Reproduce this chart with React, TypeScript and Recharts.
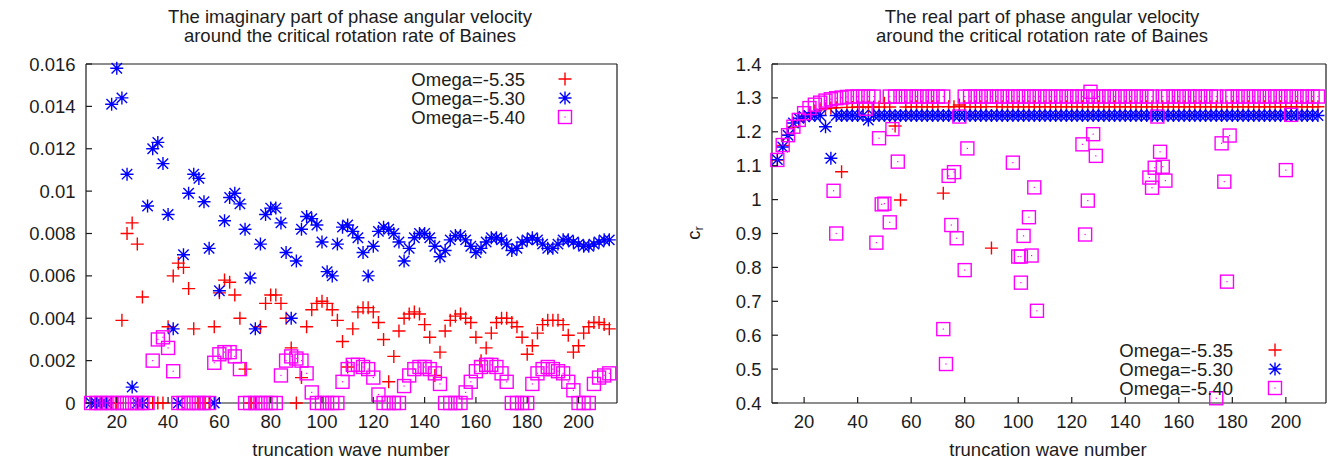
import React from 'react';
import { ScatterChart, Scatter, XAxis, YAxis } from 'recharts';

// ---- styling ---------------------------------------------------------------
const FONT = '"Liberation Sans", Arial, Helvetica, sans-serif';
const FONT_SIZE = 18.5;
const INK = '#1c1c1c';
const RED = '#ff0000';
const BLUE = '#0000ff';
const MAGENTA = '#ff00ff';
const TICK = 6;
const MARK = 6.5;
const MARK_W = 1.4;

// ---- data ------------------------------------------------------------------
const seriesNames = ['Omega=-5.35', 'Omega=-5.30', 'Omega=-5.40'];

const waveNumbers = [
  10, 12, 14, 16, 18, 20, 22, 24, 26, 28,
  30, 32, 34, 36, 38, 40, 42, 44, 46, 48,
  50, 52, 54, 56, 58, 60, 62, 64, 66, 68,
  70, 72, 74, 76, 78, 80, 82, 84, 86, 88,
  90, 92, 94, 96, 98, 100, 102, 104, 106, 108,
  110, 112, 114, 116, 118, 120, 122, 124, 126, 128,
  130, 132, 134, 136, 138, 140, 142, 144, 146, 148,
  150, 152, 154, 156, 158, 160, 162, 164, 166, 168,
  170, 172, 174, 176, 178, 180, 182, 184, 186, 188,
  190, 192, 194, 196, 198, 200, 202, 204, 206, 208,
  210, 212,
];

// imaginary part of the phase angular velocity
const imagOmega535 = [
  0, 0, 0, 0, 0, 0, 0.0039, 0.0080, 0.0085, 0.0075,
  0.0050, 0, 0, 0, 0, 0.0036, 0.0060, 0.0066, 0.0064, 0.0054,
  0.0035, 0, 0, 0, 0.0036, 0.0052, 0.0058, 0.0057, 0.0051, 0.0040,
  0.0016, 0, 0, 0.0036, 0.0047, 0.0051, 0.0051, 0.0047, 0.0040, 0.0026,
  0, 0.0012, 0.0036, 0.0044, 0.0047, 0.0048, 0.0047, 0.0044, 0.0039, 0.0029,
  0.0017, 0.0035, 0.0043, 0.0045, 0.0045, 0.0043, 0.0038, 0.0030, 0.0010, 0.0022,
  0.0034, 0.0040, 0.0042, 0.0043, 0.0042, 0.0037, 0.0031, 0.0013, 0.0024, 0.0034,
  0.0039, 0.0041, 0.0042, 0.0040, 0.0038, 0.0031, 0.0020, 0.0026, 0.0033, 0.0038,
  0.0040, 0.0040, 0.0038, 0.0036, 0.0031, 0.0023, 0.0027, 0.0033, 0.0037, 0.0039,
  0.0039, 0.0039, 0.0037, 0.0032, 0.0024, 0.0027, 0.0033, 0.0036, 0.0038, 0.0038,
  0.0037, 0.0035,
];

const imagOmega530 = [
  0, 0, 0, 0, 0.0141, 0.0158, 0.0144, 0.0108, 0.00075, 0,
  0, 0.0093, 0.0120, 0.0123, 0.0113, 0.0089, 0.0035, 0, 0.0070, 0.0099,
  0.0108, 0.0106, 0.0095, 0.0073, 0, 0.0053, 0.0086, 0.0097, 0.0099, 0.0094,
  0.0082, 0.0059, 0.0035, 0.0075, 0.0089, 0.0092, 0.0092, 0.0085, 0.0071, 0.0040,
  0.0067, 0.0082, 0.0088, 0.0087, 0.0084, 0.0076, 0.0062, 0.0060, 0.0075, 0.0083,
  0.0084, 0.0081, 0.0078, 0.0071, 0.0060, 0.0074, 0.0081, 0.0083, 0.0082, 0.0080,
  0.0076, 0.0067, 0.0073, 0.0078, 0.0080, 0.0080, 0.0078, 0.0074, 0.0069, 0.0072,
  0.0077, 0.0079, 0.0079, 0.0077, 0.0074, 0.0071, 0.0073, 0.0076, 0.0078, 0.0078,
  0.0077, 0.0075, 0.0072, 0.0073, 0.0076, 0.0077, 0.0078, 0.0077, 0.0075, 0.0073,
  0.0073, 0.0075, 0.0077, 0.0077, 0.0076, 0.0075, 0.0074, 0.0074, 0.0075, 0.0076,
  0.0077, 0.0077,
];

const imagOmega540 = [
  0, 0, 0, 0, 0, 0, 0, 0, 0, 0,
  0, 0, 0.0020, 0.0030, 0.0031, 0.0026, 0.0015, 0, 0, 0,
  0, 0, 0, 0, 0.0019, 0.0023, 0.0024, 0.0024, 0.0022, 0.0016,
  0, 0, 0, 0, 0, 0, 0, 0.0013, 0.0020, 0.0022,
  0.0021, 0.0020, 0.0014, 0.0005, 0, 0, 0, 0, 0, 0.0010,
  0.0016, 0.0018, 0.0018, 0.0017, 0.0016, 0.0012, 0.0004, 0, 0, 0,
  0, 0.0008, 0.0013, 0.0016, 0.0017, 0.0017, 0.0016, 0.0014, 0.0009, 0,
  0, 0, 0, 0.0005, 0.0010, 0.0015, 0.0017, 0.0018, 0.0018, 0.0017,
  0.0014, 0.0010, 0, 0, 0, 0, 0.0009, 0.0014, 0.0016, 0.0017,
  0.0016, 0.0015, 0.0014, 0.0010, 0.0006, 0, 0, 0, 0.0009, 0.0012,
  0.0013, 0.0014,
];

// real part c_r of the phase angular velocity
const realOmega535 = [
  1.117, 1.160, 1.190, 1.214, 1.232, 1.245, 1.254, 1.260, 1.265, 1.268,
  1.270, 1.271, 1.082, 1.272, 1.272, 1.273, 1.273, 1.273, 1.273, 1.273,
  1.284, 1.273, 1.217, 0.999, 1.273, 1.274, 1.274, 1.274, 1.274, 1.274,
  1.274, 1.019, 1.274, 1.274, 1.279, 1.274, 1.274, 1.274, 1.274, 1.274,
  0.857, 1.274, 1.274, 1.274, 1.274, 1.274, 1.274, 1.274, 1.274, 1.274,
  1.274, 1.274, 1.274, 1.274, 1.274, 1.274, 1.274, 1.274, 1.274, 1.274,
  1.274, 1.274, 1.274, 1.274, 1.274, 1.274, 1.274, 1.274, 1.274, 1.274,
  1.274, 1.274, 1.274, 1.274, 1.274, 1.274, 1.274, 1.274, 1.274, 1.274,
  1.274, 1.274, 1.274, 1.274, 1.274, 1.274, 1.274, 1.274, 1.274, 1.274,
  1.274, 1.274, 1.274, 1.274, 1.274, 1.274, 1.274, 1.274, 1.274, 1.274,
  1.274, 1.274,
];

const realOmega530 = [
  1.118, 1.155, 1.190, 1.226, 1.240, 1.245, 1.247, 1.248, 1.248, 1.215,
  1.122, 1.248, 1.248, 1.248, 1.248, 1.248, 1.248, 1.235, 1.248, 1.248,
  1.248, 1.248, 1.248, 1.248, 1.248, 1.248, 1.248, 1.248, 1.248, 1.248,
  1.248, 1.248, 1.248, 1.248, 1.248, 1.248, 1.248, 1.248, 1.248, 1.248,
  1.248, 1.248, 1.248, 1.248, 1.248, 1.248, 1.248, 1.248, 1.248, 1.248,
  1.248, 1.248, 1.248, 1.248, 1.248, 1.248, 1.248, 1.248, 1.248, 1.248,
  1.248, 1.248, 1.248, 1.248, 1.248, 1.248, 1.248, 1.248, 1.248, 1.248,
  1.248, 1.248, 1.248, 1.248, 1.248, 1.248, 1.248, 1.248, 1.248, 1.248,
  1.248, 1.248, 1.248, 1.248, 1.248, 1.248, 1.248, 1.248, 1.248, 1.248,
  1.248, 1.248, 1.248, 1.248, 1.248, 1.248, 1.248, 1.248, 1.248, 1.248,
  1.248, 1.248,
];

// Omega=-5.40: the main branch and the scattered roots off it
const realOmega540N = [
  10, 12, 14, 16, 18, 20, 22, 24, 26, 28, 30, 32, 34, 36, 38, 40, 42, 44, 46,
  52, 54, 56, 58, 60, 62, 64, 66, 68, 70, 72,
  80, 82, 84, 86, 88, 90, 92, 94, 96, 98, 100, 102, 104, 106, 108, 110, 112, 114,
  116, 118, 120, 122, 124, 126, 128, 130, 132, 134, 136, 138, 140, 142, 144, 146, 148, 150,
  154, 156, 158, 160, 162, 164, 166, 168, 170, 172, 174,
  178, 180, 182, 184, 186, 188, 190, 192, 194, 196, 198, 200, 202, 204, 206, 208, 210, 212,
];
const realOmega540 = [
  1.117, 1.161, 1.190, 1.215, 1.235, 1.255, 1.270, 1.280, 1.286, 1.292, 1.296, 1.299, 1.301, 1.303, 1.304, 1.304, 1.304, 1.304, 1.304,
  1.304, 1.304, 1.304, 1.304, 1.304, 1.304, 1.304, 1.304, 1.304, 1.304, 1.304,
  1.304, 1.304, 1.304, 1.304, 1.304, 1.304, 1.304, 1.304, 1.304, 1.304, 1.304, 1.304, 1.304, 1.304, 1.304, 1.304, 1.304, 1.304,
  1.304, 1.304, 1.304, 1.304, 1.304, 1.304, 1.304, 1.304, 1.304, 1.304, 1.304, 1.304, 1.304, 1.304, 1.304, 1.304, 1.304, 1.304,
  1.304, 1.304, 1.304, 1.304, 1.304, 1.304, 1.304, 1.304, 1.304, 1.304, 1.304,
  1.304, 1.304, 1.304, 1.304, 1.304, 1.304, 1.304, 1.304, 1.304, 1.304, 1.304, 1.304, 1.304, 1.304, 1.304, 1.304, 1.304, 1.304,
];
const realOmega540ExtraN = [
  31, 32, 43, 47, 48, 49, 50, 52, 53, 55,
  72, 73, 74, 75, 76, 77, 78, 80, 81,
  98, 100, 101, 101, 102, 104, 105, 106, 107,
  124, 125, 126, 127, 128, 129,
  149, 150, 151, 152, 153, 154, 155,
  174, 176, 177, 178, 179,
  200, 202,
];
const realOmega540Extra = [
  1.026, 0.900, 1.268, 0.873, 1.181, 0.986, 0.988, 0.933, 1.208, 1.112,
  0.618, 0.515, 1.070, 0.925, 1.081, 0.886, 1.245, 0.792, 1.151,
  1.109, 0.832, 0.832, 0.755, 0.893, 0.948, 0.835, 1.036, 0.672,
  1.163, 0.897, 0.997, 1.318, 1.193, 1.129,
  1.065, 1.035, 1.094, 1.245, 1.141, 1.097, 1.056,
  0.414, 1.166, 1.053, 0.758, 1.189,
  1.087, 1.250,
];

// ---- axes ------------------------------------------------------------------
const xDomain = [8, 215];
const xTicks = [20, 40, 60, 80, 100, 120, 140, 160, 180, 200];
const imagDomain = [0, 0.016];
const imagTicks = [0, 0.002, 0.004, 0.006, 0.008, 0.01, 0.012, 0.014, 0.016];
const imagTickLabels = ['0', '0.002', '0.004', '0.006', '0.008', '0.01', '0.012', '0.014', '0.016'];
const realDomain = [0.4, 1.4];
const realTicks = [0.4, 0.5, 0.6, 0.7, 0.8, 0.9, 1, 1.1, 1.2, 1.3, 1.4];
const realTickLabels = ['0.4', '0.5', '0.6', '0.7', '0.8', '0.9', '1', '1.1', '1.2', '1.3', '1.4'];

type Pt = { x: number; y: number };
const pairs = (xs: number[], ys: number[]): Pt[] => xs.map((x, i) => ({ x, y: ys[i] }));

// ---- point symbols ---------------------------------------------------------
function PlusMark({ cx, cy }: { cx: number; cy: number }) {
  return (
    <path
      d={`M${cx - MARK} ${cy}H${cx + MARK}M${cx} ${cy - MARK}V${cy + MARK}`}
      stroke={RED}
      strokeWidth={MARK_W}
      fill="none"
    />
  );
}

function StarMark({ cx, cy }: { cx: number; cy: number }) {
  const k = MARK * 0.8;
  return (
    <path
      d={`M${cx - MARK} ${cy}H${cx + MARK}M${cx} ${cy - MARK}V${cy + MARK}M${cx - k} ${cy - k}L${cx + k} ${cy + k}M${cx - k} ${cy + k}L${cx + k} ${cy - k}`}
      stroke={BLUE}
      strokeWidth={MARK_W}
      fill="none"
    />
  );
}

function BoxMark({ cx, cy }: { cx: number; cy: number }) {
  return (
    <g>
      <rect x={cx - MARK} y={cy - MARK} width={2 * MARK} height={2 * MARK} fill="none" stroke={MAGENTA} strokeWidth={MARK_W} />
      <rect x={cx - 0.6} y={cy - 0.6} width={1.2} height={1.2} fill={MAGENTA} />
    </g>
  );
}

const marks = [PlusMark, StarMark, BoxMark];

// ---- ticks (gnuplot style: drawn inwards, mirrored on all four sides) ------
const textStyle = { fontFamily: FONT, fontSize: FONT_SIZE, fill: INK };

const BottomTick = (p: any) => (
  <g>
    <line x1={p.x} y1={p.y} x2={p.x} y2={p.y - TICK} stroke={INK} strokeWidth={1.2} />
    <text x={p.x} y={p.y + 25} textAnchor="middle" style={textStyle}>
      {p.payload.value}
    </text>
  </g>
);

const TopTick = (p: any) => (
  <line x1={p.x} y1={p.y} x2={p.x} y2={p.y + TICK} stroke={INK} strokeWidth={1.2} />
);

const RightTick = (p: any) => (
  <line x1={p.x} y1={p.y} x2={p.x - TICK} y2={p.y} stroke={INK} strokeWidth={1.2} />
);

const makeLeftTick = (ticks: number[], labels: string[]) => (p: any) => {
  const idx = ticks.findIndex((t) => Math.abs(t - p.payload.value) < 1e-9);
  return (
    <g>
      <line x1={p.x} y1={p.y} x2={p.x + TICK} y2={p.y} stroke={INK} strokeWidth={1.2} />
      <text x={p.x - 10.5} y={p.y + 6.5} textAnchor="end" style={textStyle}>
        {idx >= 0 ? labels[idx] : String(p.payload.value)}
      </text>
    </g>
  );
};

type PanelProps = {
  width: number;
  yAxisWidth: number;
  marginRight: number;
  yDomain: number[];
  yTicks: number[];
  yLabels: string[];
  series: Pt[][];
};

function Panel({ width, yAxisWidth, marginRight, yDomain, yTicks, yLabels, series }: PanelProps) {
  const axisLine = { stroke: INK, strokeWidth: 1.2 };
  return (
    <ScatterChart width={width} height={469} margin={{ top: 63, right: marginRight, bottom: 0, left: 0 }}>
      <XAxis
        xAxisId="bottom"
        type="number"
        dataKey="x"
        domain={xDomain}
        ticks={xTicks}
        interval={0}
        orientation="bottom"
        height={66}
        tickLine={false}
        tickSize={0}
        tickMargin={0}
        axisLine={axisLine}
        tick={BottomTick}
      />
      <XAxis
        xAxisId="top"
        type="number"
        dataKey="x"
        domain={xDomain}
        ticks={xTicks}
        interval={0}
        orientation="top"
        height={1}
        tickLine={false}
        tickSize={0}
        tickMargin={0}
        axisLine={axisLine}
        tick={TopTick}
      />
      <YAxis
        yAxisId="left"
        type="number"
        dataKey="y"
        domain={yDomain}
        ticks={yTicks}
        interval={0}
        orientation="left"
        width={yAxisWidth}
        tickLine={false}
        tickSize={0}
        tickMargin={0}
        axisLine={axisLine}
        tick={makeLeftTick(yTicks, yLabels)}
      />
      <YAxis
        yAxisId="right"
        type="number"
        dataKey="y"
        domain={yDomain}
        ticks={yTicks}
        interval={0}
        orientation="right"
        width={1}
        tickLine={false}
        tickSize={0}
        tickMargin={0}
        axisLine={axisLine}
        tick={RightTick}
      />
      <Scatter xAxisId="top" yAxisId="right" data={[]} isAnimationActive={false} />
      {series.map((data, i) => {
        const Mark = marks[i];
        return (
          <Scatter
            key={seriesNames[i]}
            name={seriesNames[i]}
            xAxisId="bottom"
            yAxisId="left"
            data={data}
            isAnimationActive={false}
            shape={(p: any) => <Mark cx={p.cx} cy={p.cy} />}
          />
        );
      })}
    </ScatterChart>
  );
}

function LegendBlock({ textRight, markX, rows }: { textRight: number; markX: number; rows: number[] }) {
  return (
    <g>
      {seriesNames.map((name, i) => {
        const Mark = marks[i];
        return (
          <g key={name}>
            <text x={textRight} y={rows[i] + 6.5} textAnchor="end" style={textStyle}>
              {name}
            </text>
            <Mark cx={markX} cy={rows[i]} />
          </g>
        );
      })}
    </g>
  );
}

export default function App() {
  const imagSeries = [
    pairs(waveNumbers, imagOmega535),
    pairs(waveNumbers, imagOmega530),
    pairs(waveNumbers, imagOmega540),
  ];
  const realSeries = [
    pairs(waveNumbers, realOmega535),
    pairs(waveNumbers, realOmega530),
    [...pairs(realOmega540N, realOmega540), ...pairs(realOmega540ExtraN, realOmega540Extra)],
  ];

  return (
    <div style={{ position: 'absolute', left: 0, top: 0, width: 1335, height: 469, background: '#fff', overflow: 'hidden' }}>
      <div style={{ position: 'absolute', left: 0, top: 0 }}>
        <Panel
          width={668}
          yAxisWidth={86}
          marginRight={50}
          yDomain={imagDomain}
          yTicks={imagTicks}
          yLabels={imagTickLabels}
          series={imagSeries}
        />
      </div>
      <div style={{ position: 'absolute', left: 668, top: 0 }}>
        <Panel
          width={667}
          yAxisWidth={104}
          marginRight={8}
          yDomain={realDomain}
          yTicks={realTicks}
          yLabels={realTickLabels}
          series={realSeries}
        />
      </div>
      <svg width={1335} height={469} style={{ position: 'absolute', left: 0, top: 0, pointerEvents: 'none' }}>
        <g style={textStyle} textAnchor="middle">
          <text x={350} y={23.3}>The imaginary part of phase angular velocity</text>
          <text x={350} y={41.7}>around the critical rotation rate of Baines</text>
          <text x={1042} y={23.3}>The real part of phase angular velocity</text>
          <text x={1042} y={41.7}>around the critical rotation rate of Baines</text>
          <text x={351} y={456}>truncation wave number</text>
          <text x={1048} y={456}>truncation wave number</text>
        </g>
        <text transform="translate(700,233) rotate(-90)" textAnchor="middle" style={textStyle}>
          c<tspan fontSize={13} dy={3}>r</tspan>
        </text>
        <LegendBlock textRight={525} markX={565} rows={[79, 98, 117]} />
        <LegendBlock textRight={1233} markX={1275} rows={[350, 369, 388]} />
      </svg>
    </div>
  );
}
